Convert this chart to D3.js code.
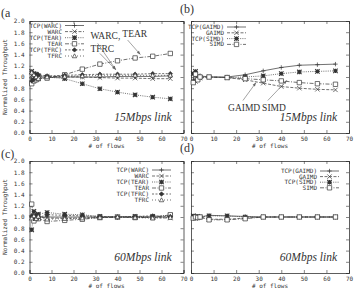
<!DOCTYPE html>
<meta charset="utf-8">
<head>
<script src="https://d3js.org/d3.v7.min.js"></script>
<style>
    body { margin: 0; background: #fff; }
    .tick text { font: 6px "DejaVu Sans Mono", monospace; fill: #333; }
    .legend text { font: 6px "DejaVu Sans Mono", monospace; fill: #333; }
    .note { font-family: "Liberation Serif", serif; fill: #333; }
</style>
</head>
<body>
<div id="chart"></div>
<script>
// x positions of the measurements (# of flows)
var flows = [1, 2, 3, 4, 8, 16, 24, 32, 40, 48, 56, 64];
var xTicks = [0, 10, 20, 30, 40, 50, 60, 70];
var yTicks = [0, 0.2, 0.4, 0.6, 0.8, 1.0, 1.2, 1.4, 1.6, 1.8, 2.0];

var namesLeft = ["TCP(WARC)", "WARC", "TCP(TEAR)", "TEAR", "TCP(TFRC)", "TFRC"];
var namesRight = ["TCP(GAIMD)", "GAIMD", "TCP(SIMD)", "SIMD"];

// (a) 15Mbps link
var a_tcpWarc = [0.97, 0.95, 0.98, 0.98, 0.99, 1.00, 1.00, 1.00, 1.01, 1.01, 1.01, 1.02];
var a_warc    = [1.03, 1.05, 1.02, 1.02, 1.01, 1.00, 1.00, 0.99, 0.98, 0.98, 0.97, 0.97];
var a_tcpTear = [1.10, 1.06, 1.05, 1.02, 1.00, 0.97, 0.88, 0.79, 0.73, 0.68, 0.64, 0.61];
var a_tear    = [0.88, 0.93, 0.95, 0.97, 0.98, 1.04, 1.14, 1.23, 1.29, 1.34, 1.37, 1.42];
var a_tcpTfrc = [0.93, 0.96, 1.00, 1.04, 1.02, 1.03, 1.04, 1.05, 1.05, 1.05, 1.06, 1.06];
var a_tfrc    = [1.08, 1.04, 1.00, 0.97, 1.00, 1.01, 1.02, 1.03, 1.03, 1.03, 1.03, 1.03];

// (b) 15Mbps link
var b_tcpGaimd = [0.95, 1.08, 1.00, 1.02, 1.00, 1.00, 1.04, 1.11, 1.17, 1.21, 1.22, 1.23];
var b_gaimd    = [1.05, 0.92, 1.02, 0.98, 1.00, 0.99, 0.95, 0.89, 0.83, 0.80, 0.78, 0.77];
var b_tcpSimd  = [1.06, 1.10, 0.98, 1.00, 1.00, 0.99, 1.00, 1.02, 1.06, 1.09, 1.10, 1.11];
var b_simd     = [0.90, 1.05, 0.95, 1.00, 1.00, 0.99, 0.97, 0.95, 0.93, 0.90, 0.88, 0.87];

// (c) 60Mbps link
var c_tcpWarc = [1.00, 1.05, 0.98, 1.00, 1.00, 1.00, 1.00, 1.00, 1.00, 1.00, 1.00, 1.00];
var c_warc    = [0.98, 0.95, 1.02, 1.00, 0.98, 0.98, 0.98, 0.99, 1.00, 1.00, 0.99, 0.98];
var c_tcpTear = [0.77, 1.10, 0.97, 1.05, 1.08, 1.05, 1.04, 1.01, 1.00, 1.01, 1.01, 1.03];
var c_tear    = [1.23, 0.93, 1.00, 0.97, 0.92, 0.94, 0.96, 0.99, 1.00, 0.99, 0.99, 1.04];
var c_tcpTfrc = [1.02, 0.97, 1.03, 0.99, 1.04, 1.03, 1.02, 1.01, 1.00, 1.01, 1.02, 1.01];
var c_tfrc    = [0.98, 1.02, 0.97, 1.01, 0.96, 0.97, 0.98, 0.99, 1.00, 0.99, 0.98, 0.99];

// (d) 60Mbps link
var d_tcpGaimd = [1.00, 1.02, 1.00, 1.00, 1.03, 1.02, 1.01, 1.00, 1.00, 1.00, 1.00, 1.00];
var d_gaimd    = [0.98, 0.97, 1.00, 1.00, 0.96, 0.96, 0.98, 1.00, 1.00, 1.00, 1.00, 1.00];
var d_tcpSimd  = [1.02, 1.00, 1.01, 1.00, 1.02, 1.02, 1.00, 1.00, 1.00, 1.00, 1.00, 1.00];
var d_simd     = [0.98, 1.00, 0.99, 1.00, 0.95, 0.95, 0.97, 1.00, 1.00, 1.00, 1.00, 1.00];

// gnuplot-ish line types: dash pattern + point type
var styles = [
    {dash: null,      pt: "plus"},
    {dash: "3,1.5",   pt: "cross"},
    {dash: "1,1.2",   pt: "star"},
    {dash: "4,1.5,1,1.5", pt: "box"},
    {dash: "2,1.5",   pt: "diamond"},
    {dash: "1,2",     pt: "tri"}
];

var ink = "#333";

var svg = d3.select("#chart").append("svg")
    .attr("width", 357)
    .attr("height", 292);

function drawPoint(g, type, cx, cy) {
    var r = 2.2;
    var p = g.append("path").attr("transform", "translate(" + cx + "," + cy + ")")
        .attr("stroke", ink).attr("stroke-width", 0.7).attr("fill", "none");
    if (type == "plus") p.attr("d", "M" + -r + ",0H" + r + "M0," + -r + "V" + r);
    if (type == "cross") p.attr("d", "M" + -r + "," + -r + "L" + r + "," + r + "M" + -r + "," + r + "L" + r + "," + -r);
    if (type == "star") p.attr("d", "M" + -r + ",0H" + r + "M0," + -r + "V" + r +
        "M" + -r + "," + -r + "L" + r + "," + r + "M" + -r + "," + r + "L" + r + "," + -r).attr("stroke-width", 1.1);
    if (type == "box") p.attr("d", "M" + -r + "," + -r + "H" + r + "V" + r + "H" + -r + "Z").attr("fill", "#fff");
    if (type == "diamond") p.attr("d", "M0," + -r + "L" + r + ",0L0," + r + "L" + -r + ",0Z").attr("fill", ink);
    if (type == "tri") p.attr("d", "M0," + -r + "L" + r + "," + (r * 0.8) + "H" + -r + "Z").attr("fill", "#fff");
}

function panel(o) {
    var x = d3.scaleLinear().domain([0, 70]).range([o.left, o.right]);
    var y = d3.scaleLinear().domain([0, 2]).range([o.bottom, o.top]);
    var g = svg.append("g");

    // axes with mirrored ticks, gnuplot style (ticks point inward)
    g.append("g").attr("transform", "translate(0," + o.bottom + ")")
        .call(d3.axisBottom(x).tickValues(xTicks).tickSize(-3).tickPadding(4).tickFormat(d3.format("d")));
    g.append("g").attr("transform", "translate(0," + o.top + ")")
        .call(d3.axisTop(x).tickValues(xTicks).tickSize(-3).tickFormat(""));
    g.append("g").attr("transform", "translate(" + o.left + ",0)")
        .call(d3.axisLeft(y).tickValues(yTicks).tickSize(-3).tickPadding(5)
            .tickFormat(o.yLabels ? d3.format(".1f") : ""));
    g.append("g").attr("transform", "translate(" + o.right + ",0)")
        .call(d3.axisRight(y).tickValues(yTicks).tickSize(-3).tickFormat(""));
    g.selectAll(".domain").attr("stroke", ink).attr("stroke-width", 0.8);
    g.selectAll(".tick line").attr("stroke", ink).attr("stroke-width", 0.6);

    g.append("text")
        .attr("x", (o.left + o.right) / 2).attr("y", o.bottom + 15)
        .attr("text-anchor", "middle")
        .style("font", "6px 'DejaVu Sans Mono', monospace").attr("fill", ink)
        .text("# of flows");

    if (o.yLabels) {
        g.append("text")
            .attr("transform", "translate(7," + (o.top + o.bottom) / 2 + ") rotate(-90)")
            .attr("text-anchor", "middle")
            .style("font", "6px 'DejaVu Sans Mono', monospace").attr("fill", ink)
            .text("Normalized Throughput");
    }

    var line = d3.line().x(function (d) { return x(d[0]); }).y(function (d) { return y(d[1]); });

    o.series.forEach(function (s, i) {
        var pts = flows.map(function (f, j) { return [f, s[j]]; });
        g.append("path").datum(pts)
            .attr("d", line)
            .attr("fill", "none")
            .attr("stroke", ink)
            .attr("stroke-width", 0.7)
            .attr("stroke-dasharray", styles[i].dash);
        pts.forEach(function (p) { drawPoint(g, styles[i].pt, x(p[0]), y(p[1])); });
    });

    // legend
    var lg = g.append("g").attr("class", "legend");
    o.names.forEach(function (n, i) {
        var ly = o.legY + i * o.legStep;
        lg.append("text").attr("x", o.legX).attr("y", ly + 2)
            .attr("text-anchor", "end").text(n);
        lg.append("line")
            .attr("x1", o.legX + 3).attr("x2", o.legX + 22)
            .attr("y1", ly).attr("y2", ly)
            .attr("stroke", ink).attr("stroke-width", 0.7)
            .attr("stroke-dasharray", styles[i].dash);
        drawPoint(lg, styles[i].pt, o.legX + 12.5, ly);
    });

    // link caption
    g.append("text").attr("class", "note")
        .attr("x", o.right - 12).attr("y", y(0.22))
        .attr("text-anchor", "end")
        .style("font-size", "11.5px").style("font-style", "italic")
        .text(o.caption);

    // panel letter
    g.append("text").attr("class", "note")
        .attr("x", o.letterX).attr("y", o.top - o.letterUp)
        .style("font-size", "12px")
        .text(o.letter);

    (o.notes || []).forEach(function (t) {
        g.append("text").attr("class", "note")
            .attr("x", x(t.x)).attr("y", y(t.y))
            .style("font-size", "9.5px")
            .text(t.text);
    });
    (o.arrows || []).forEach(function (a) {
        var x1 = x(a.x1), y1 = y(a.y1), x2 = x(a.x2), y2 = y(a.y2);
        g.append("line")
            .attr("x1", x1).attr("y1", y1).attr("x2", x2).attr("y2", y2)
            .attr("stroke", "#666").attr("stroke-width", 0.6);
        var ang = Math.atan2(y2 - y1, x2 - x1), L = 4;
        g.append("path")
            .attr("d", "M" + x2 + "," + y2 +
                "L" + (x2 - L * Math.cos(ang - 0.35)) + "," + (y2 - L * Math.sin(ang - 0.35)) +
                "L" + (x2 - L * Math.cos(ang + 0.35)) + "," + (y2 - L * Math.sin(ang + 0.35)) + "Z")
            .attr("fill", "#666");
    });
}

panel({
    left: 29.5, right: 183.5, top: 21, bottom: 133, yLabels: true,
    series: [a_tcpWarc, a_warc, a_tcpTear, a_tear, a_tcpTfrc, a_tfrc],
    names: namesLeft, legX: 62, legY: 25.5, legStep: 6.1,
    caption: "15Mbps link", letter: "(a", letterX: 1, letterUp: 4,
    notes: [{x: 27.7, y: 1.67, text: "WARC,"}, {x: 42.2, y: 1.72, text: "TEAR"}, {x: 27.7, y: 1.45, text: "TFRC"}],
    arrows: [{x1: 44.6, y1: 1.66, x2: 50.4, y2: 1.40},
             {x1: 31, y1: 1.60, x2: 39.2, y2: 1.13},
             {x1: 32, y1: 1.42, x2: 39.2, y2: 1.13}]
});

panel({
    left: 191, right: 349, top: 21, bottom: 133, yLabels: false,
    series: [b_tcpGaimd, b_gaimd, b_tcpSimd, b_simd],
    names: namesRight, legX: 224, legY: 27, legStep: 5.8,
    caption: "15Mbps link", letter: "(b)", letterX: 180, letterUp: 8,
    notes: [{x: 16.4, y: 0.39, text: "GAIMD"}, {x: 31.5, y: 0.39, text: "SIMD"}],
    arrows: [{x1: 23, y1: 0.58, x2: 28.8, y2: 0.90},
             {x1: 34, y1: 0.58, x2: 42.5, y2: 0.94}]
});

panel({
    left: 29.5, right: 183.5, top: 161, bottom: 273, yLabels: true,
    series: [c_tcpWarc, c_warc, c_tcpTear, c_tear, c_tcpTfrc, c_tfrc],
    names: namesLeft, legX: 149, legY: 170, legStep: 6,
    caption: "60Mbps link", letter: "(c)", letterX: 1, letterUp: 3
});

panel({
    left: 191, right: 349, top: 161, bottom: 273, yLabels: false,
    series: [d_tcpGaimd, d_gaimd, d_tcpSimd, d_simd],
    names: namesRight, legX: 317, legY: 171, legStep: 5.6,
    caption: "60Mbps link", letter: "(d)", letterX: 180, letterUp: 9
});
</script>
</body>
